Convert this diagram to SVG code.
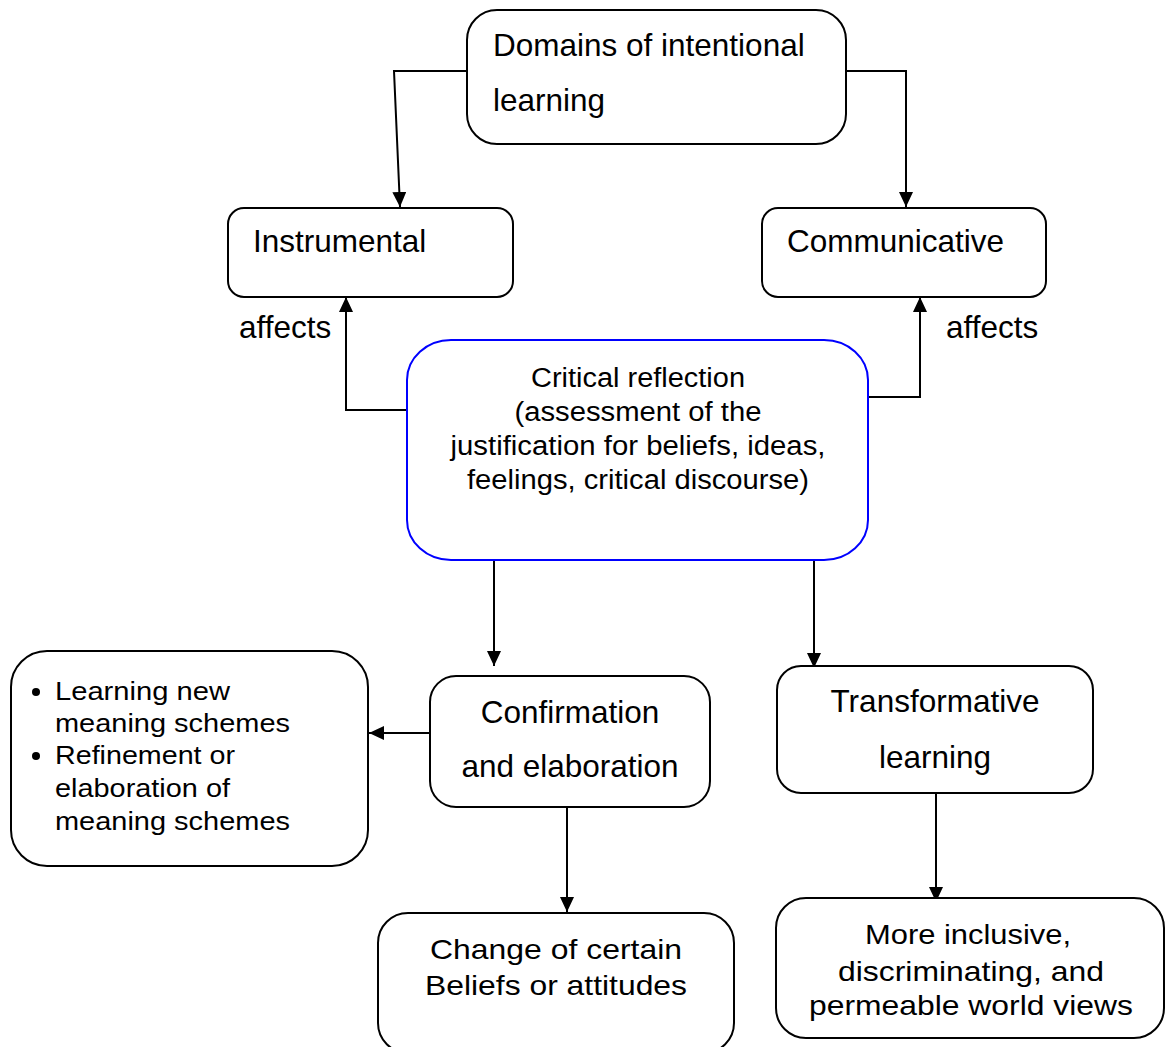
<svg xmlns="http://www.w3.org/2000/svg" width="1165" height="1047" viewBox="0 0 1165 1047">
<defs>
<marker id="ah" viewBox="0 0 15 14" refX="15" refY="7" markerWidth="15" markerHeight="14" markerUnits="userSpaceOnUse" orient="auto">
<path d="M0,0 L15,7 L0,14 z" fill="#000"/>
</marker>
<style>
.box{fill:#fff;stroke:#000;stroke-width:2}
.blue{fill:#fff;stroke:#0000ff;stroke-width:2}
.t{font-family:"Liberation Sans",Arial,sans-serif;fill:#000}
.big{font-size:31.5px}
.c{stroke:#000;stroke-width:2;fill:none;marker-end:url(#ah)}
</style>
</defs>
<rect width="1165" height="1047" fill="#fff"/>
<g id="connectors">
<path class="c" d="M467,71 L394,71 L400,207"/>
<path class="c" d="M846,71 L906,71 L906,207"/>
<path class="c" d="M407,410 L346,410 L346,297"/>
<path class="c" d="M868,397 L920,397 L920,297"/>
<path class="c" d="M494,560 L494,666"/>
<path class="c" d="M814,560 L814,668"/>
<path class="c" d="M430,733 L369,733"/>
<path class="c" d="M567,800 L567,912"/>
<path class="c" d="M936,793 L936,902"/>
</g>
<g id="domains">
<rect class="box" x="467" y="10" width="379" height="134" rx="30"/>
<text class="t big" x="493" y="56">Domains of intentional</text>
<text class="t big" x="493" y="111">learning</text>
</g>
<g id="instrumental">
<rect class="box" x="228" y="208" width="285" height="89" rx="16"/>
<text class="t big" x="253" y="252">Instrumental</text>
</g>
<g id="communicative">
<rect class="box" x="762" y="208" width="284" height="89" rx="16"/>
<text class="t big" x="787" y="252">Communicative</text>
</g>
<g id="affects-left"><text class="t big" x="239" y="338">affects</text></g>
<g id="affects-right"><text class="t big" x="946" y="338">affects</text></g>
<g id="critical">
<rect class="blue" x="407" y="340" width="461" height="220" rx="44" ry="40"/>
<g class="t" font-size="27" text-anchor="middle" lengthAdjust="spacingAndGlyphs">
<text x="638" y="387" textLength="214" lengthAdjust="spacingAndGlyphs">Critical reflection</text>
<text x="638" y="421" textLength="247" lengthAdjust="spacingAndGlyphs">(assessment of the</text>
<text x="638" y="455" textLength="375" lengthAdjust="spacingAndGlyphs">justification for beliefs, ideas,</text>
<text x="638" y="489" textLength="342" lengthAdjust="spacingAndGlyphs">feelings, critical discourse)</text>
</g>
</g>
<g id="bullets">
<rect class="box" x="11" y="651" width="357" height="215" rx="36"/>
<circle cx="36" cy="692" r="4" fill="#000"/>
<circle cx="36" cy="756" r="4" fill="#000"/>
<g class="t" font-size="26">
<text x="55" y="700" textLength="175" lengthAdjust="spacingAndGlyphs">Learning new</text>
<text x="55" y="732" textLength="235" lengthAdjust="spacingAndGlyphs">meaning schemes</text>
<text x="55" y="764" textLength="180" lengthAdjust="spacingAndGlyphs">Refinement or</text>
<text x="55" y="797" textLength="175" lengthAdjust="spacingAndGlyphs">elaboration of</text>
<text x="55" y="830" textLength="235" lengthAdjust="spacingAndGlyphs">meaning schemes</text>
</g>
</g>
<g id="confirmation">
<rect class="box" x="430" y="676" width="280" height="131" rx="26"/>
<text class="t big" x="570" y="723" text-anchor="middle">Confirmation</text>
<text class="t big" x="570" y="777" text-anchor="middle">and elaboration</text>
</g>
<g id="transformative">
<rect class="box" x="777" y="666" width="316" height="127" rx="24"/>
<text class="t big" x="935" y="712" text-anchor="middle">Transformative</text>
<text class="t big" x="935" y="768" text-anchor="middle">learning</text>
</g>
<g id="change">
<rect class="box" x="378" y="913" width="356" height="140" rx="30"/>
<g class="t" font-size="28" text-anchor="middle">
<text x="556" y="959" textLength="252" lengthAdjust="spacingAndGlyphs">Change of certain</text>
<text x="556" y="995" textLength="262" lengthAdjust="spacingAndGlyphs">Beliefs or attitudes</text>
</g>
</g>
<g id="inclusive">
<rect class="box" x="776" y="898" width="388" height="140" rx="30"/>
<g class="t" font-size="28" text-anchor="middle">
<text x="968" y="944" textLength="206" lengthAdjust="spacingAndGlyphs">More inclusive,</text>
<text x="971" y="981" textLength="266" lengthAdjust="spacingAndGlyphs">discriminating, and</text>
<text x="971" y="1015" textLength="324" lengthAdjust="spacingAndGlyphs">permeable world views</text>
</g>
</g>
</svg>
